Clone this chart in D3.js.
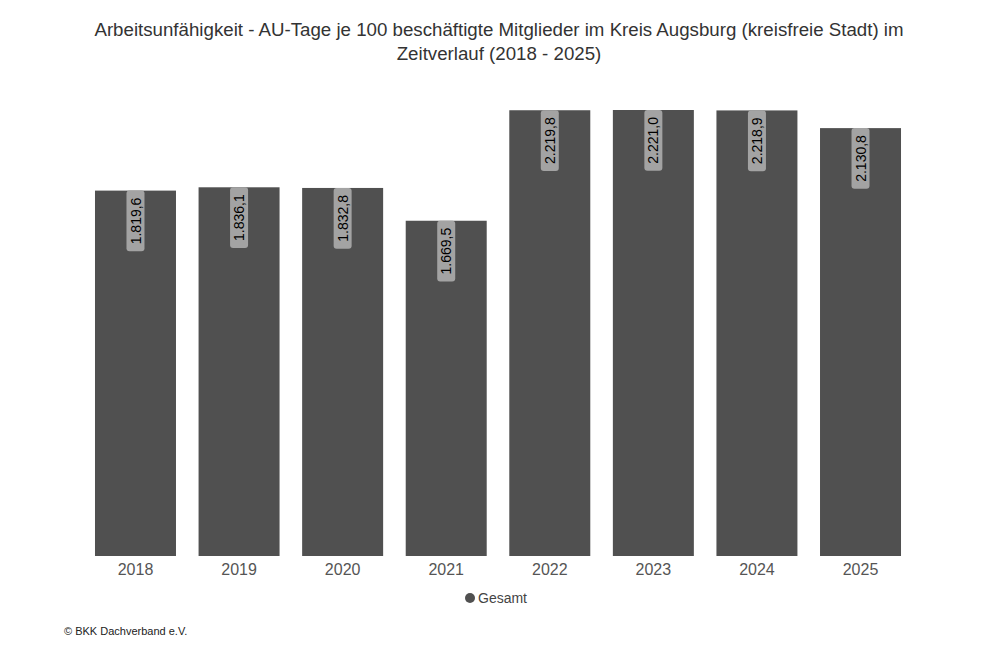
<!DOCTYPE html>
<html>
<head>
<meta charset="utf-8">
<script src="https://cdn.jsdelivr.net/npm/d3@7"></script>
<style>
  body { margin: 0; background: #fff; }
  svg { font-family: "Liberation Sans", Arial, sans-serif; }
</style>
</head>
<body>
<svg id="chart" width="998" height="659"></svg>
<script>
var years = ["2018", "2019", "2020", "2021", "2022", "2023", "2024", "2025"];
var values = [1819.6, 1836.1, 1832.8, 1669.5, 2219.8, 2221.0, 2218.9, 2130.8];
var seriesName = "Gesamt";
var titleLines = [
    "Arbeitsunfähigkeit - AU-Tage je 100 beschäftigte Mitglieder im Kreis Augsburg (kreisfreie Stadt) im",
    "Zeitverlauf (2018 - 2025)"
];

var svg = d3.select("#chart");
var data = years.map((y, i) => ({year: y, value: values[i]}));

var fmt = d3.formatLocale({decimal: ",", thousands: ".", grouping: [3], currency: ["", "€"]}).format(",.1f");

var x = d3.scaleBand()
    .domain(years)
    .range([83.7, 912.3])
    .paddingInner(0.218)
    .paddingOuter(0.109);

var y = d3.scaleLinear()
    .domain([0, d3.max(values)])
    .range([556, 110]);

// title
svg.append("g")
    .selectAll("text")
    .data(titleLines)
    .enter().append("text")
    .attr("x", 499)
    .attr("y", (d, i) => 36 + i * 23.5)
    .attr("text-anchor", "middle")
    .attr("font-size", "18.7px")
    .attr("fill", "#333")
    .text(d => d);

var bar = svg.selectAll(".bar")
    .data(data)
    .enter().append("g")
    .attr("class", "bar");

bar.append("rect")
    .attr("x", d => x(d.year))
    .attr("y", d => y(d.value))
    .attr("width", x.bandwidth())
    .attr("height", d => y(0) - y(d.value))
    .attr("fill", "#505050");

// rotated value labels
var lab = bar.append("g")
    .attr("transform", d => "translate(" + (x(d.year) + x.bandwidth() / 2) + "," + y(d.value) + ") rotate(-90)");

lab.append("text")
    .attr("font-size", "14px")
    .attr("fill", "#000")
    .attr("text-anchor", "end")
    .attr("dy", "0.36em")
    .attr("x", -7)
    .text(d => fmt(d.value));

lab.each(function(){
    var g = d3.select(this);
    var w = g.select("text").node().getComputedTextLength();
    g.insert("rect", "text")
        .attr("x", -w - 14)
        .attr("y", -9)
        .attr("width", w + 14)
        .attr("height", 18)
        .attr("rx", 3)
        .attr("fill", "#a3a3a3");
});

// x axis
var xAxis = svg.append("g")
    .attr("transform", "translate(0,556)")
    .call(d3.axisBottom(x).tickSize(0).tickPadding(8));
xAxis.select(".domain").remove();
xAxis.selectAll("text")
    .attr("font-size", "16px")
    .attr("font-family", "Liberation Sans, Arial, sans-serif")
    .attr("fill", "#555");

// legend
var legend = svg.append("g").attr("transform", "translate(470,598)");
legend.append("circle").attr("r", 5).attr("fill", "#505050");
legend.append("text")
    .attr("x", 8)
    .attr("dy", "0.35em")
    .attr("font-size", "14px")
    .attr("fill", "#444")
    .text(seriesName);

// footer
svg.append("text")
    .attr("x", 64)
    .attr("y", 635)
    .attr("font-size", "11px")
    .attr("fill", "#222")
    .text("© BKK Dachverband e.V.");
</script>
</body>
</html>
